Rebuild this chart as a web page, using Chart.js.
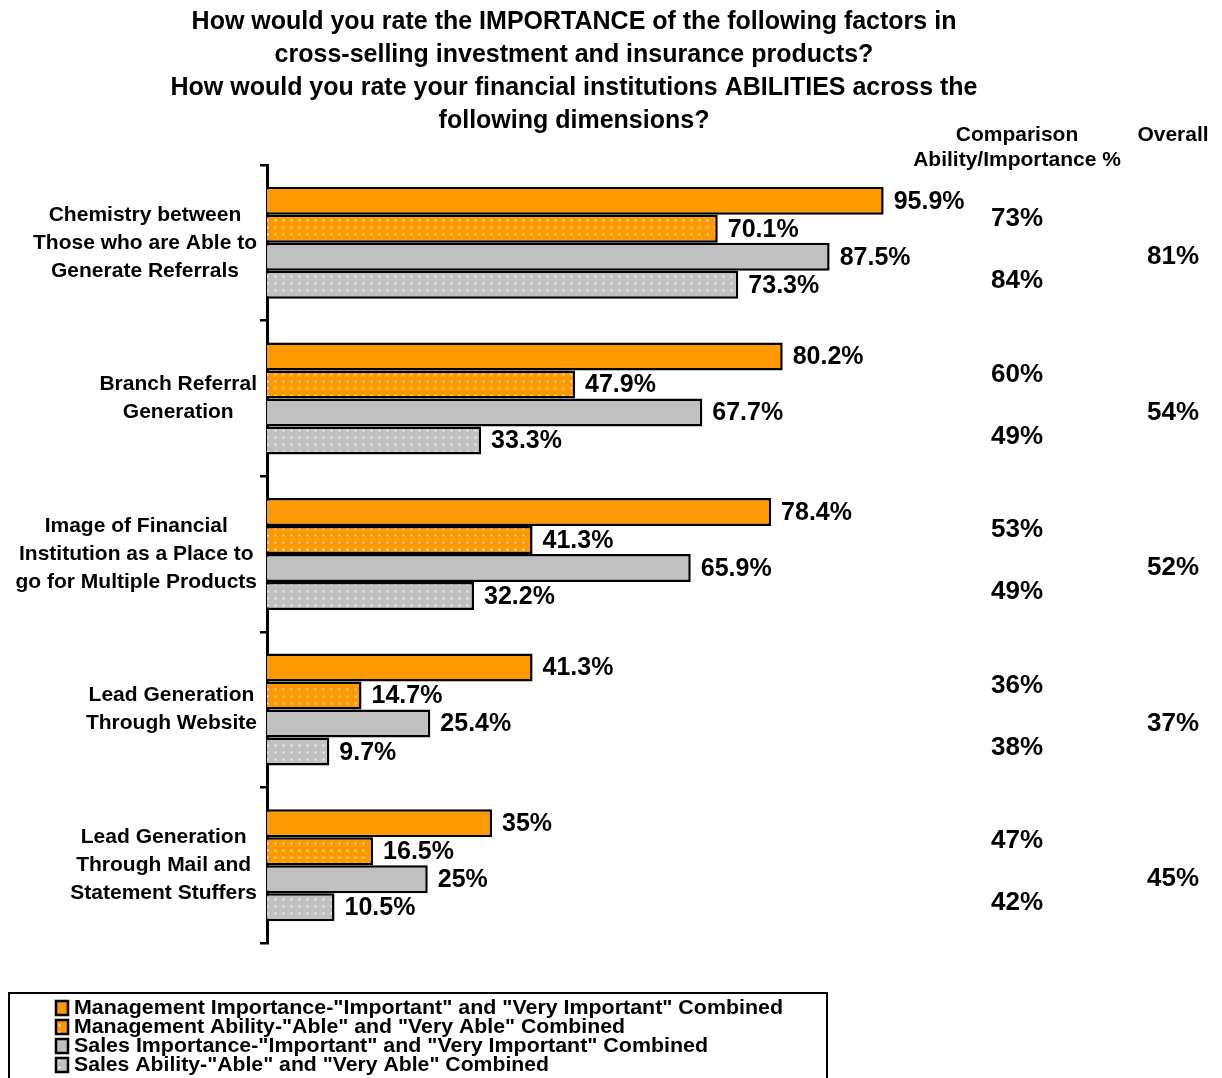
<!DOCTYPE html>
<html>
<head>
<meta charset="utf-8">
<script src="https://cdn.jsdelivr.net/npm/chart.js@4"></script>
<style>
  body { margin: 0; background: #fff; }
  #wrap { position: relative; width: 1222px; height: 1078px; }
</style>
</head>
<body>
<div id="wrap"><canvas id="chart"></canvas></div>
<script>
// Categories and series
const categories = [
    ['Chemistry between', 'Those who are Able to', 'Generate Referrals'],
    ['Branch Referral', 'Generation'],
    ['Image of Financial', 'Institution as a Place to', 'go for Multiple Products'],
    ['Lead Generation', 'Through Website'],
    ['Lead Generation', 'Through Mail and', 'Statement Stuffers']
];
const mgmtImportance = [95.9, 80.2, 78.4, 41.3, 35];
const mgmtAbility = [70.1, 47.9, 41.3, 14.7, 16.5];
const salesImportance = [87.5, 67.7, 65.9, 25.4, 25];
const salesAbility = [73.3, 33.3, 32.2, 9.7, 10.5];

// Ability/Importance comparison (management, sales) and overall per category
const comparisonMgmt = [73, 60, 53, 36, 47];
const comparisonSales = [84, 49, 49, 38, 42];
const overall = [81, 54, 52, 37, 45];

const titleLines = [
    'How would you rate the IMPORTANCE of the following factors in',
    'cross-selling investment and insurance products?',
    'How would you rate your financial institutions ABILITIES across the',
    'following dimensions?'
];

const ORANGE = '#FF9900';
const GRAY = '#C0C0C0';
const FONT = '"Liberation Sans", Arial, sans-serif';

// white dotted fill used for the "Ability" series
function dotted(base) {
    const c = document.createElement('canvas');
    c.width = 8; c.height = 7;
    const g = c.getContext('2d');
    g.fillStyle = base;
    g.fillRect(0, 0, 8, 7);
    g.fillStyle = 'rgba(255,255,255,0.25)';
    g.fillRect(2, 2, 3, 3);
    g.fillStyle = 'rgba(255,255,255,0.9)';
    g.fillRect(3, 3, 1, 1);
    return g.createPattern(c, 'repeat');
}
const orangeDots = dotted(ORANGE);
const grayDots = dotted(GRAY);

// text around the plot: title, column headers, category labels, comparison columns, legend
const annotations = {
    id: 'annotations',
    afterDraw(chart) {
        const ctx = chart.ctx;
        const y = chart.scales.y;
        ctx.save();
        ctx.fillStyle = '#000';
        ctx.textBaseline = 'middle';

        // title
        ctx.font = 'bold 25px ' + FONT;
        ctx.textAlign = 'center';
        titleLines.forEach((t, i) => ctx.fillText(t, 574, 22 + i * 33));

        // column headers
        ctx.font = 'bold 21px ' + FONT;
        ctx.fillText('Comparison', 1017, 135);
        ctx.fillText('Ability/Importance %', 1017, 160);
        ctx.fillText('Overall', 1173, 135);

        // category labels, centered as a block against the axis
        ctx.font = 'bold 21px ' + FONT;
        categories.forEach((lines, i) => {
            const cy = y.getPixelForValue(i);
            const w = Math.max(...lines.map(l => ctx.measureText(l).width));
            const cx = 257 - w / 2;
            lines.forEach((l, j) => {
                ctx.fillText(l, cx, cy + (j - (lines.length - 1) / 2) * 28);
            });
        });

        // bar value labels
        ctx.font = 'bold 25px ' + FONT;
        ctx.textAlign = 'left';
        chart.data.datasets.forEach((ds, di) => {
            chart.getDatasetMeta(di).data.forEach((bar, i) => {
                ctx.fillText(ds.data[i] + '%', bar.x + 10, bar.y + 1);
            });
        });

        // comparison and overall columns
        ctx.font = 'bold 26px ' + FONT;
        ctx.textAlign = 'center';
        categories.forEach((_, i) => {
            const cy = y.getPixelForValue(i);
            ctx.fillText(comparisonMgmt[i] + '%', 1017, cy - 24);
            ctx.fillText(comparisonSales[i] + '%', 1017, cy + 38);
            ctx.fillText(overall[i] + '%', 1173, cy + 14);
        });

        // legend box
        ctx.lineWidth = 2;
        ctx.strokeStyle = '#000';
        ctx.strokeRect(9, 993, 818, 100);
        ctx.font = 'bold 18px ' + FONT;
        ctx.textAlign = 'left';
        chart.data.datasets.forEach((ds, i) => {
            const ly = 1008 + i * 19;
            ctx.fillStyle = ds.backgroundColor;
            ctx.fillRect(56, ly - 7, 12, 14);
            ctx.lineWidth = 2.5;
            ctx.strokeRect(56, ly - 7, 12, 14);
            ctx.fillStyle = '#000';
            ctx.save();
            ctx.translate(74, ly + 1);
            const w = ctx.measureText(ds.label).width;
            ctx.scale(ds.legendWidth / w, 1.08);
            ctx.fillText(ds.label, 0, 0);
            ctx.restore();
        });
        ctx.restore();
    }
};

const barStyle = { borderColor: '#000', borderWidth: 2.5, borderSkipped: 'start' };

new Chart(document.getElementById('chart'), {
    type: 'bar',
    data: {
        labels: categories.map(c => c.join(' ')),
        datasets: [
            Object.assign({ label: 'Management Importance-"Important" and "Very Important" Combined', data: mgmtImportance, backgroundColor: ORANGE, legendWidth: 709 }, barStyle),
            Object.assign({ label: 'Management Ability-"Able" and "Very Able" Combined', data: mgmtAbility, backgroundColor: orangeDots, legendWidth: 551 }, barStyle),
            Object.assign({ label: 'Sales Importance-"Important" and "Very Important" Combined', data: salesImportance, backgroundColor: GRAY, legendWidth: 634 }, barStyle),
            Object.assign({ label: 'Sales Ability-"Able" and "Very Able" Combined', data: salesAbility, backgroundColor: grayDots, legendWidth: 475 }, barStyle)
        ]
    },
    options: {
        indexAxis: 'y',
        responsive: true,
        maintainAspectRatio: false,
        animation: false,
        layout: { padding: { top: 165, bottom: 135, right: 312, left: 0 } },
        categoryPercentage: 0.72,
        barPercentage: 1.0,
        scales: {
            x: { display: false, min: 0, max: 100 },
            y: {
                afterFit(scale) { scale.width = 267; },
                ticks: { display: false },
                grid: {
                    offset: true,
                    drawOnChartArea: false,
                    drawTicks: true,
                    tickLength: 7,
                    color: '#000',
                    lineWidth: 2.5
                },
                border: { display: true, color: '#000', width: 3 }
            }
        },
        plugins: {
            legend: { display: false },
            tooltip: { enabled: false }
        }
    },
    plugins: [annotations]
});
</script>
</body>
</html>
